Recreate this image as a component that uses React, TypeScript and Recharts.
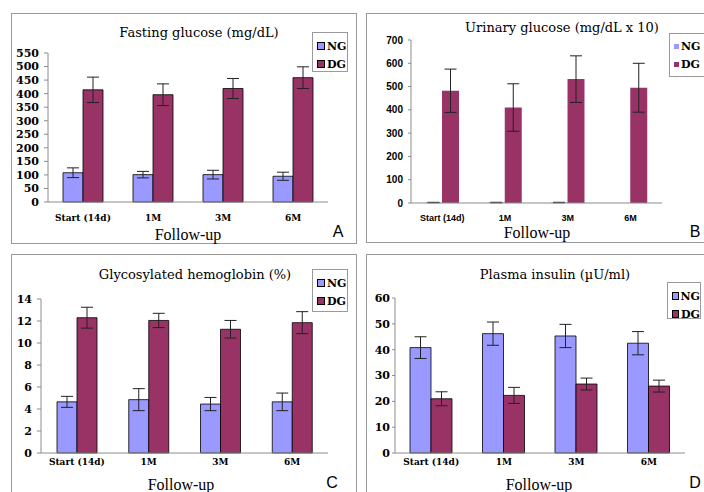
import React from "react";
import { BarChart, Bar, XAxis, YAxis, ErrorBar } from "recharts";

const categories = ["Start (14d)", "1M", "3M", "6M"];
const groups = ["NG", "DG"];

const fastingNG = [108, 101, 101, 95];
const fastingNGErr = [18, 12, 16, 15];
const fastingDG = [414, 396, 419, 459];
const fastingDGErr = [47, 40, 37, 40];
const fastingTicks = [0, 50, 100, 150, 200, 250, 300, 350, 400, 450, 500, 550];

const urinaryNG = [2, 2, 2, 0];
const urinaryNGErr = [1, 1, 1, 0];
const urinaryDG = [482, 410, 532, 495];
const urinaryDGErr = [93, 102, 100, 105];
const urinaryTicks = [0, 100, 200, 300, 400, 500, 600, 700];

const hbNG = [4.65, 4.85, 4.45, 4.65];
const hbNGErr = [0.5, 1.0, 0.6, 0.8];
const hbDG = [12.3, 12.05, 11.25, 11.85];
const hbDGErr = [0.95, 0.65, 0.8, 1.0];
const hbTicks = [0, 2, 4, 6, 8, 10, 12, 14];

const insNG = [40.8, 46.2, 45.3, 42.5];
const insNGErr = [4.2, 4.5, 4.5, 4.5];
const insDG = [21, 22.3, 26.7, 25.9];
const insDGErr = [2.7, 3.1, 2.3, 2.3];
const insTicks = [0, 10, 20, 30, 40, 50, 60];

const NG_COLOR = "#9999ff";
const DG_COLOR = "#993366";
const AXIS = "#8c8c8c";

const rows = (ng: number[], ngErr: number[], dg: number[], dgErr: number[]) =>
  categories.map((name, i) => ({ name, ng: ng[i], ngErr: ngErr[i], dg: dg[i], dgErr: dgErr[i] }));

const boundaryTicks = categories.map((_, i) => i).concat(categories.length);

type Box = { left: number; top: number; width: number; height: number };
type PanelProps = {
  data: ReturnType<typeof rows>;
  ticks: number[];
  box: Box;
  plot: { left: number; top: number; right: number; bottom: number };
  barSize: number;
  outlined: boolean;
  sansTicks: boolean;
  yGap: [number, number];
  xMargin: number;
  title: string;
  titleAt: [number, number];
  legend: Box & { boxed: boolean };
  followAt: [number, number];
  letter: string;
  letterAt: [number, number];
};

function Panel(p: PanelProps) {
  const chartH = Math.min(p.box.height, 492 - p.box.top);
  const chartW = p.box.width;
  const tickFont = p.sansTicks
    ? { fontFamily: "Liberation Sans", fontWeight: 700 }
    : { fontFamily: "DejaVu Serif", fontWeight: 700 };
  const stroke = p.outlined ? "#000" : "none";
  return (
    <>
      <div
        style={{
          position: "absolute",
          left: p.box.left,
          top: p.box.top,
          width: p.box.width,
          height: p.box.height,
          border: "1px solid #9a9a9a",
          boxSizing: "border-box",
        }}
      />
      <div style={{ position: "absolute", left: p.box.left, top: p.box.top }}>
        <BarChart
          width={chartW}
          height={chartH}
          data={p.data}
          barGap={0}
          barCategoryGap={0}
          margin={{ top: p.plot.top - p.box.top, right: p.box.left + chartW - p.plot.right, left: 0, bottom: 0 }}
        >
          <XAxis
            xAxisId="grid"
            type="number"
            domain={[0, categories.length]}
            ticks={boundaryTicks}
            tick={false}
            tickSize={4}
            axisLine={false}
            tickLine={{ stroke: AXIS }}
            height={0}
          />
          <XAxis
            xAxisId="cat"
            dataKey="name"
            height={p.box.top + chartH - p.plot.bottom}
            tickSize={0}
            tickLine={false}
            tickMargin={p.xMargin}
            axisLine={{ stroke: AXIS }}
            tick={{ ...tickFont, fontSize: 9, fill: "#000" }}
            interval={0}
          />
          <YAxis
            width={p.plot.left - p.box.left}
            domain={[p.ticks[0], p.ticks[p.ticks.length - 1]]}
            ticks={p.ticks}
            interval={0}
            tickSize={p.yGap[0]}
            tickMargin={p.yGap[1]}
            axisLine={{ stroke: AXIS }}
            tickLine={{ stroke: AXIS }}
            tick={{ ...tickFont, fontSize: p.sansTicks ? 10 : 11, fill: "#000" }}
          />
          <Bar xAxisId="cat" dataKey="ng" fill={NG_COLOR} stroke={stroke} strokeWidth={0.8} barSize={p.barSize} isAnimationActive={false}>
            <ErrorBar dataKey="ngErr" width={6} stroke="#222" strokeWidth={1} />
          </Bar>
          <Bar xAxisId="cat" dataKey="dg" fill={DG_COLOR} stroke={stroke} strokeWidth={0.8} barSize={p.barSize} isAnimationActive={false}>
            <ErrorBar dataKey="dgErr" width={6} stroke="#222" strokeWidth={1} />
          </Bar>
        </BarChart>
      </div>
      <div
        style={{
          position: "absolute",
          left: p.titleAt[0] - 150,
          top: p.titleAt[1] - 9,
          width: 300,
          textAlign: "center",
          fontFamily: "DejaVu Serif",
          fontSize: 13,
          lineHeight: "18px",
          whiteSpace: "nowrap",
        }}
      >
        {p.title}
      </div>
      <div
        style={{
          position: "absolute",
          left: p.legend.left,
          top: p.legend.top,
          width: p.legend.width,
          height: p.legend.height,
          border: "1px solid #9a9a9a",
          boxSizing: "border-box",
          background: "#fff",
          paddingTop: p.legend.boxed ? 4 : 3,
          paddingLeft: 4,
        }}
      >
        {groups.map((g, i) => (
          <div
            key={g}
            style={{
              display: "flex",
              alignItems: "center",
              height: 18,
              fontFamily: "DejaVu Serif",
              fontWeight: 700,
              fontSize: 11,
            }}
          >
            <span
              style={{
                display: "inline-block",
                width: p.legend.boxed ? 6 : 5,
                height: p.legend.boxed ? 6 : 5,
                marginRight: 2,
                background: i === 0 ? NG_COLOR : DG_COLOR,
                border: p.legend.boxed ? "1px solid #000" : "none",
              }}
            />
            {g}
          </div>
        ))}
      </div>
      <div
        style={{
          position: "absolute",
          left: p.followAt[0] - 60,
          top: p.followAt[1] - 10,
          width: 120,
          textAlign: "center",
          fontFamily: "Liberation Serif",
          fontSize: 16,
          lineHeight: "20px",
        }}
      >
        Follow-up
      </div>
      <div
        style={{
          position: "absolute",
          left: p.letterAt[0] - 10,
          top: p.letterAt[1] - 10,
          width: 20,
          textAlign: "center",
          fontFamily: "Liberation Sans",
          fontSize: 16,
          lineHeight: "20px",
        }}
      >
        {p.letter}
      </div>
    </>
  );
}

export default function App() {
  return (
    <div
      style={{
        position: "absolute",
        left: 0,
        top: 0,
        width: 704,
        height: 492,
        overflow: "hidden",
        background: "#fff",
      }}
    >
      <Panel
        data={rows(fastingNG, fastingNGErr, fastingDG, fastingDGErr)}
        ticks={fastingTicks}
        box={{ left: 11, top: 13, width: 346, height: 231 }}
        plot={{ left: 48, top: 53, right: 328, bottom: 202 }}
        barSize={20}
        outlined
        sansTicks={false}
        yGap={[4, 5]}
        xMargin={13}
        title="Fasting glucose (mg/dL)"
        titleAt={[199, 33]}
        legend={{ left: 312, top: 32, width: 36, height: 40, boxed: true }}
        followAt={[188, 235]}
        letter="A"
        letterAt={[338, 232]}
      />
      <Panel
        data={rows(urinaryNG, urinaryNGErr, urinaryDG, urinaryDGErr)}
        ticks={urinaryTicks}
        box={{ left: 366, top: 13, width: 360, height: 230 }}
        plot={{ left: 411, top: 40, right: 662, bottom: 203 }}
        barSize={17}
        outlined={false}
        sansTicks
        yGap={[3, 5]}
        xMargin={12}
        title="Urinary glucose (mg/dL x 10)"
        titleAt={[562, 28]}
        legend={{ left: 669, top: 33, width: 60, height: 44, boxed: false }}
        followAt={[537, 233]}
        letter="B"
        letterAt={[695, 232]}
      />
      <Panel
        data={rows(hbNG, hbNGErr, hbDG, hbDGErr)}
        ticks={hbTicks}
        box={{ left: 11, top: 254, width: 346, height: 260 }}
        plot={{ left: 41, top: 299, right: 328, bottom: 453 }}
        barSize={20}
        outlined
        sansTicks={false}
        yGap={[4, 5]}
        xMargin={6}
        title="Glycosylated hemoglobin (%)"
        titleAt={[195, 275]}
        legend={{ left: 312, top: 269, width: 36, height: 43, boxed: true }}
        followAt={[181, 485]}
        letter="C"
        letterAt={[332, 483]}
      />
      <Panel
        data={rows(insNG, insNGErr, insDG, insDGErr)}
        ticks={insTicks}
        box={{ left: 366, top: 254, width: 360, height: 260 }}
        plot={{ left: 395, top: 298, right: 685, bottom: 453 }}
        barSize={21}
        outlined
        sansTicks={false}
        yGap={[3, 2]}
        xMargin={6}
        title="Plasma insulin (µU/ml)"
        titleAt={[555, 275]}
        legend={{ left: 667, top: 282, width: 34, height: 37, boxed: true }}
        followAt={[539, 485]}
        letter="D"
        letterAt={[695, 483]}
      />
    </div>
  );
}
